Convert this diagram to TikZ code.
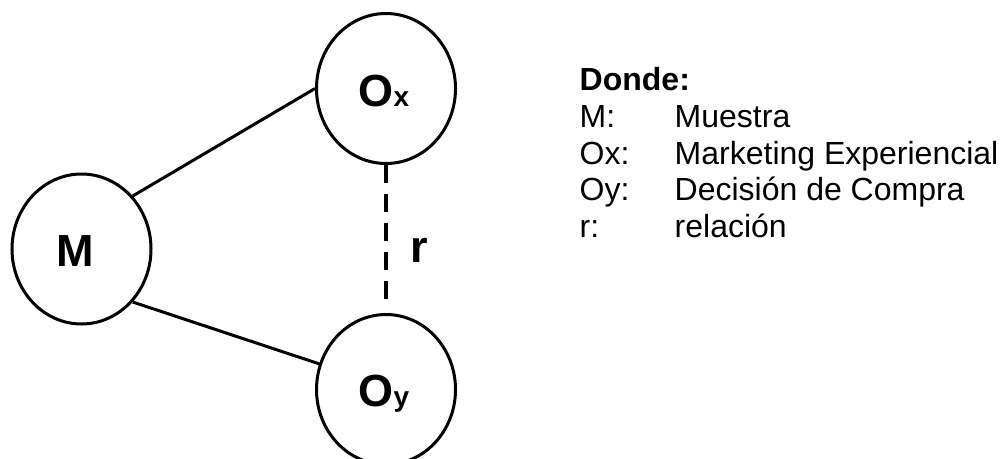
\documentclass[tikz,border=0pt]{standalone}
\usepackage{fontspec}
\setmainfont{Liberation Sans}
\usetikzlibrary{shapes.geometric}
\begin{document}
\begin{tikzpicture}[x=1pt,y=-1pt,
  circ/.style={ellipse, draw, line width=3pt, minimum width=139pt, minimum height=150pt, inner sep=0pt},
  edge/.style={line width=3pt},
  dashedge/.style={line width=3.2pt, dash pattern=on 18pt off 11pt},
  lab/.style={font=\bfseries\fontsize{45}{45}\selectfont, inner sep=0pt, anchor=base},
  legend/.style={font=\fontsize{32}{32}\selectfont, inner sep=0pt, anchor=base west}]
\useasboundingbox (0,0) rectangle (1003,458);
\clip (0,0) rectangle (1003,458);
% circles
\node[circ] (M)  at (81.5,249) {};
\node[circ] (Ox) at (386,88.5) {};
\node[circ] (Oy) at (386,389.5) {};
% labels
\node[lab] (Mlab) at (75.5,266) {M};
\node[lab] (Oxlab) at (384,106) {O{\fontsize{28}{28}\selectfont x}};
\node[lab] (Oylab) at (384,406) {O{\fontsize{28}{28}\selectfont y}};
% connectors
\draw[edge] (M.46) -- (Ox.west);
\draw[edge] (M.-46) -- (Oy.159);
\coordinate (dend) at (386,300);
\draw[dashedge] (Ox.south) -- (dend);
\node[lab] (rlab) at (419,262) {r};
% legend
\node[legend, font=\bfseries\fontsize{32}{32}\selectfont] (donde) at (579.5,90.5) {Donde:};
\node[legend] (k1) at (579.5,127.3) {M:};
\node[legend] (v1) at (674.5,127.3) {Muestra};
\node[legend] (k2) at (579.5,164) {Ox:};
\node[legend] (v2) at (674.5,164) {Marketing Experiencial};
\node[legend] (k3) at (579.5,200.7) {Oy:};
\node[legend] (v3) at (674.5,200.7) {Decisión de Compra};
\node[legend] (k4) at (579.5,237) {r:};
\node[legend] (v4) at (674.5,237) {relación};
\end{tikzpicture}
\end{document}
